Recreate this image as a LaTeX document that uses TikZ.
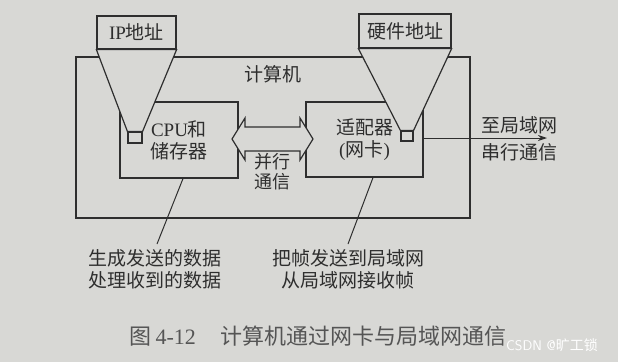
\documentclass[tikz,border=0pt]{standalone}
\usepackage{fontspec}
\setmainfont{Liberation Serif}
\newfontfamily\cjk{Noto Sans CJK SC}
\usetikzlibrary{arrows.meta,positioning,calc}
\pgfdeclarelayer{front}
\pgfsetlayers{main,front}
\definecolor{paper}{HTML}{D8D8D5}
\definecolor{ink}{HTML}{2E2E2E}
\definecolor{faded}{HTML}{555555}
\tikzset{
  cn/.style={
    font=\cjk\fontsize{19}{22}\selectfont,
    text=ink,
    inner sep=0pt
  },
  frame/.style={
    draw=ink,
    line width=1.2pt,
    fill=paper
  },
  unit/.style={
    frame,
    cn,
    align=center
  },
  port/.style={
    frame,
    inner sep=0pt
  },
  funnel/.style={
    draw=ink,
    line width=1.2pt,
    fill=paper,
    line join=miter
  },
  busarrow/.style={
    draw=ink,
    line width=1.2pt,
    fill=paper
  },
  lead/.style={
    draw=ink,
    line width=1pt
  },
  wire/.style={
    -{Stealth[length=9pt,width=6pt]},
    draw=ink,
    line width=1pt
  }
}

\begin{document}
\begin{tikzpicture}[x=1pt,y=-1pt]

\fill[paper] (0,0) rectangle (618,362);
\useasboundingbox (0,0) rectangle (618,362);

% ---------------------------------------------------------------------------
% 1. Computer with its two units
% ---------------------------------------------------------------------------
\node[frame, minimum width=394pt, minimum height=161pt] (computer) at (273,137.5) {};
\node[cn] (computerlabel) at (273,74) {计算机};

\node[unit, minimum width=118pt, minimum height=76pt] (cpu) at (179,140)
  {{\rmfamily CPU}和\\储存器};
\node[unit, minimum width=117pt, minimum height=75pt] (nic) at (364.5,139.5)
  {适配器\\{\rmfamily(}网卡{\rmfamily)}};

% Parallel bus between the units, drawn over their borders.
\coordinate (bus) at (272.5,139);
\draw[busarrow] ($(bus)+(-40.5,0)$) -- ++(13,-21) -- ++(0,9) -- ++(55,0)
  -- ++(0,-9) -- ++(13,21) -- ++(-13,21) -- ++(0,-9) -- ++(-55,0)
  -- ++(0,9) -- cycle;
\node[cn, font=\cjk\fontsize{18}{20}\selectfont, align=center] (buslabel) at (272,172)
  {并行\\通信};

% ---------------------------------------------------------------------------
% 2. Addresses and their funnels
% ---------------------------------------------------------------------------
\node[unit, minimum width=79pt, minimum height=33pt] (ip) at (136.5,32.5)
  {{\rmfamily IP}地址};
\node[unit, minimum width=92pt, minimum height=34pt] (hw) at (405,31)
  {硬件地址};

\begin{pgfonlayer}{front}
\node[port, minimum width=14pt, minimum height=11pt] (ipport) at (135,137.5) {};
\node[port, minimum width=12pt, minimum height=10pt] (hwport) at (407,136) {};
\end{pgfonlayer}

\draw[funnel] (ip.south west) -- (ip.south east) -- (ipport.north east)
  -- (ipport.north west) -- cycle;
\draw[funnel] (hw.south west) -- (hw.south east) -- (hwport.north east)
  -- (hwport.north west) -- cycle;

% ---------------------------------------------------------------------------
% 3. Link to the LAN and notes
% ---------------------------------------------------------------------------
\coordinate (lanEnd) at (547,138);
\draw[wire] ($(nic.east)+(0,-1.5)$) -- (lanEnd);
\node[cn, anchor=south] (lanlabel) at (519,134) {至局域网};
\node[cn, anchor=north] (seriallabel) at (519,143) {串行通信};

\node[cn, anchor=north, align=left] (cpunote) at (155,249)
  {生成发送的数据\\处理收到的数据};
\node[cn, anchor=north, align=center] (nicnote) at (348,249)
  {把帧发送到局域网\\从局域网接收帧};

\draw[lead] ($(cpu.south)+(4,0)$) -- ($(cpunote.north)+(2,-5)$);
\draw[lead] ($(nic.south)+(8.5,0)$) -- ($(nicnote.north)+(0,-5)$);

% Caption and mark.
\node[cn, text=faded, font=\cjk\fontsize{22}{24}\selectfont] (caption) at (318,336)
  {图\,{\rmfamily 4-12}\hspace{1.1em}计算机通过网卡与局域网通信};
\node[font=\sffamily\fontsize{14}{15}\selectfont, text=white, inner sep=0pt] (mark) at (552,345)
  {CSDN @{\cjk 旷工锁}};

\end{tikzpicture}
\end{document}
